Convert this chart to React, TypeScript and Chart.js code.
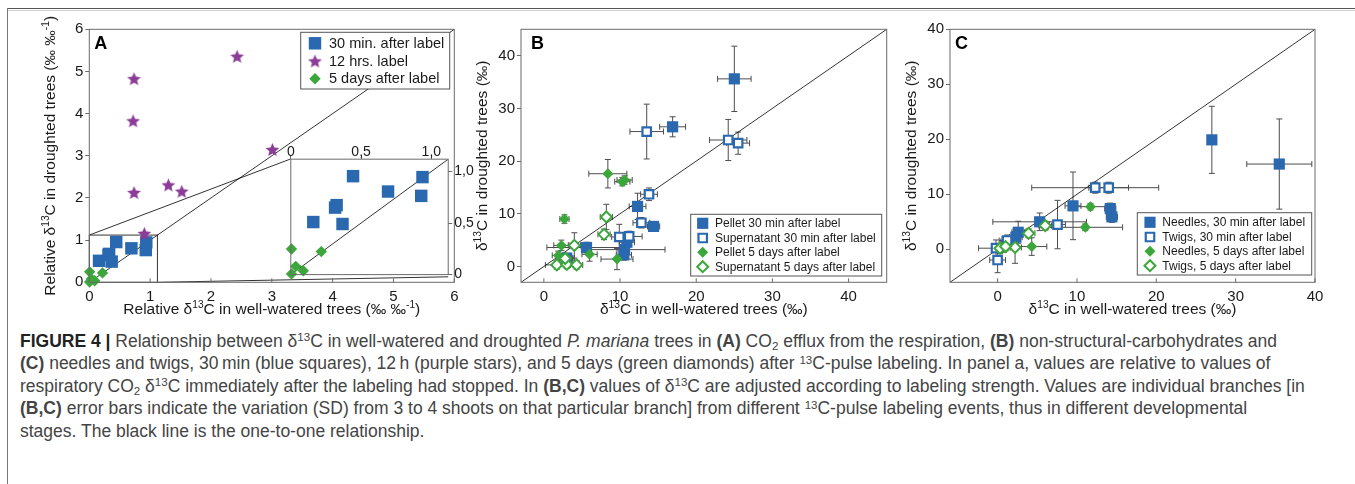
import React, { useEffect, useRef } from "react";
import { Chart, registerables } from "chart.js";

Chart.register(...registerables);

const FONT = '"Liberation Sans", Arial, Helvetica, sans-serif';
const CAPTION_FONT = '"Liberation Sans", Arial, sans-serif';
const BLUE = "#2a68af";
const PURPLE = "#8b3c97";
const GREEN = "#3ba73a";
const ERR = "#4d4d4d";
const FRAME = "#6b6b6b";
const INK = "#1a1a1a";
const TITLE_SIZE = 15.5;
const TICK_SIZE = 15;

/* ---------------- Panel A ---------------- */
const A_TICKS = [0, 1, 2, 3, 4, 5, 6];
const A_INSET_TICKS = [0, 0.5, 1.0];
const A_INSET_LABELS = ["0", "0,5", "1,0"];
const A_ZOOM_MAX = 1.12;
const A_LEGEND = ["30 min. after label", "12 hrs. label", "5 days after label"];
const A_MIN30_X = [0.16, 0.315, 0.326, 0.368, 0.443, 0.692, 0.928, 0.937];
const A_MIN30_Y = [0.51, 0.65, 0.674, 0.491, 0.955, 0.806, 0.764, 0.946];
const A_HRS12_X = [0.735, 0.72, 0.735, 2.43, 3.01, 1.3, 1.52, 0.905];
const A_HRS12_Y = [4.83, 3.83, 2.13, 5.36, 3.15, 2.31, 2.16, 1.16];
const A_DAY5_X = [0.005, 0.217, 0.035, 0.089, 0.005];
const A_DAY5_Y = [0.248, 0.223, 0.08, 0.038, 0.007];

/* ---------------- Panel B ---------------- */
const B_TICKS = [0, 10, 20, 30, 40];
const B_LEGEND = [
  "Pellet 30 min after label",
  "Supernatant 30 min after label",
  "Pellet 5 days after label",
  "Supernatant 5 days after label",
];
const B_P30_X = [25.0, 16.9, 12.3, 14.4, 5.6, 10.9, 10.6, 10.5, 3.0];
const B_P30_Y = [35.6, 26.5, 11.4, 7.6, 3.6, 4.6, 3.2, 2.2, 1.6];
const B_P30_XE = [2.2, 1.7, 1.1, 0.8, 5.2, 1.0, 5.3, 1.0, 1.0];
const B_P30_YE = [6.2, 1.9, 2.5, 0.8, 1.0, 1.2, 1.0, 1.0, 0.8];
const B_S30_X = [13.5, 24.2, 25.5, 13.8, 12.8, 9.9, 11.2];
const B_S30_Y = [25.6, 24.0, 23.4, 13.7, 8.3, 5.6, 5.7];
const B_S30_XE = [2.2, 2.45, 1.5, 1.1, 1.1, 1.0, 1.7];
const B_S30_YE = [5.2, 3.9, 2.1, 1.2, 1.0, 2.4, 1.0];
const B_P5_X = [8.4, 10.3, 10.6, 2.7, 2.3, 1.9, 3.0, 6.0, 9.6];
const B_P5_Y = [17.6, 16.1, 16.4, 9.0, 4.0, 2.1, 1.6, 2.3, 1.4];
const B_P5_XE = [2.5, 1.0, 1.0, 0.6, 1.0, 0.8, 0.8, 1.0, 2.1];
const B_P5_YE = [2.7, 0.8, 0.8, 0.8, 1.0, 0.8, 0.8, 1.3, 2.0];
const B_S5_X = [8.2, 7.9, 4.0, 1.7, 3.0, 4.3, 2.8];
const B_S5_Y = [9.4, 6.1, 4.0, 0.3, 0.4, 0.3, 1.5];
const B_S5_XE = [0.8, 0.8, 0.8, 1.5, 0.8, 0.8, 1.0];
const B_S5_YE = [2.4, 1.0, 2.4, 0.8, 0.8, 0.8, 1.0];

/* ---------------- Panel C ---------------- */
const C_TICKS_X = [0, 10, 20, 30, 40];
const C_TICKS_Y = [0, 10, 20, 30, 40];
const C_LEGEND = [
  "Needles, 30 min after label",
  "Twigs, 30 min after label",
  "Needles, 5 days after label",
  "Twigs, 5 days after label",
];
const C_N30_X = [27.0, 35.5, 9.5, 14.2, 14.4, 5.3, 2.6, 2.3, 1.2];
const C_N30_Y = [19.9, 15.5, 7.9, 7.4, 5.9, 5.0, 3.1, 2.2, 1.4];
const C_N30_XE = [0.3, 4.1, 1.0, 0.7, 0.7, 5.9, 0.8, 0.8, 0.8];
const C_N30_YE = [6.1, 8.2, 6.15, 1.0, 1.0, 1.6, 2.0, 1.5, 1.0];
const C_T30_X = [12.3, 14.0, 7.55, 0.0, -0.2, 1.2];
const C_T30_Y = [11.2, 11.2, 4.5, -1.95, 0.2, 1.6];
const C_T30_XE = [8.0, 2.5, 1.0, 1.0, 2.2, 1.0];
const C_T30_YE = [1.0, 1.0, 4.4, 2.3, 1.5, 1.0];
const C_N5_X = [11.7, 11.05, 4.3, 0.3, 0.8];
const C_N5_Y = [7.75, 4.0, 0.5, 0.0, 0.3];
const C_N5_XE = [2.4, 4.7, 1.9, 0.8, 0.8];
const C_N5_YE = [0.6, 0.6, 1.6, 0.8, 0.8];
const C_T5_X = [6.0, 3.9, 2.2, 0.3, 1.0];
const C_T5_Y = [4.3, 2.9, 0.35, 0.2, 0.5];
const C_T5_XE = [0.8, 0.8, 0.8, 0.8, 0.8];
const C_T5_YE = [0.8, 0.8, 2.9, 0.8, 0.8];

/* ---------------- Titles ---------------- */
type Seg = { t: string; sup?: boolean };
const A_X_TITLE: Seg[] = [{ t: "Relative \u03b4" }, { t: "13", sup: true }, { t: "C in well-watered trees (\u2030 \u2030" }, { t: "-1", sup: true }, { t: ")" }];
const A_Y_TITLE: Seg[] = [{ t: "Relative \u03b4" }, { t: "13", sup: true }, { t: "C in droughted trees (\u2030 \u2030" }, { t: "-1", sup: true }, { t: ")" }];
const BC_X_TITLE: Seg[] = [{ t: "\u03b4" }, { t: "13", sup: true }, { t: "C in well-watered trees (\u2030)" }];
const BC_Y_TITLE: Seg[] = [{ t: "\u03b4" }, { t: "13", sup: true }, { t: "C in droughted trees (\u2030)" }];

/* ---------------- Layout (page pixels) ---------------- */
const PANEL_A = { canvas: [10, 12, 455, 310], area: [89.3, 29.3, 454.3, 282.3], min: 0, max: 6 };
const PANEL_B = { canvas: [465, 12, 430, 310], area: [521, 29.3, 886.7, 282.3], min: -3, max: 45 };
const PANEL_C = { canvas: [895, 12, 440, 310], area: [950, 29.3, 1315, 282.3], min: -6, max: 40 };
const A_INSET_BOX = { x0: 3.3, x1: 5.9, y0: 0.13, y1: 2.92 };

interface Mk { style: any; r: number; fill: string; stroke: string; bw: number }
interface Pt { x: number; y: number; xe?: number; ye?: number }
interface Series { pts: Pt[]; mk: Mk }

const zip = (xs: number[], ys: number[], xe?: number[], ye?: number[]): Pt[] =>
  xs.map((x, i) => ({ x, y: ys[i], xe: xe ? xe[i] : 0, ye: ye ? ye[i] : 0 }));

function makeStar(color: string, R: number) {
  const s = Math.ceil(2 * R + 2);
  const c = document.createElement("canvas");
  c.width = s;
  c.height = s;
  const g = c.getContext("2d")!;
  g.translate(s / 2, s / 2 + R * 0.1);
  g.beginPath();
  for (let i = 0; i < 10; i++) {
    const r = i % 2 === 0 ? R : R * 0.45;
    const a = -Math.PI / 2 + (i * Math.PI) / 5;
    if (i === 0) g.moveTo(r * Math.cos(a), r * Math.sin(a));
    else g.lineTo(r * Math.cos(a), r * Math.sin(a));
  }
  g.closePath();
  g.fillStyle = color;
  g.fill();
  return c;
}

function drawMarker(ctx: CanvasRenderingContext2D, m: Mk, x: number, y: number) {
  if (typeof m.style !== "string") {
    ctx.drawImage(m.style, x - m.style.width / 2, y - m.style.height / 2);
    return;
  }
  ctx.beginPath();
  if (m.style === "rect") {
    const s = Math.SQRT1_2 * m.r;
    ctx.rect(x - s, y - s, 2 * s, 2 * s);
  } else {
    ctx.moveTo(x - m.r, y);
    ctx.lineTo(x, y - m.r);
    ctx.lineTo(x + m.r, y);
    ctx.lineTo(x, y + m.r);
    ctx.closePath();
  }
  ctx.fillStyle = m.fill;
  ctx.fill();
  if (m.bw > 0) {
    ctx.lineWidth = m.bw;
    ctx.strokeStyle = m.stroke;
    ctx.stroke();
  }
}

function drawRich(ctx: CanvasRenderingContext2D, segs: Seg[], x: number, y: number, size: number) {
  const fontFor = (s: Seg) => `${s.sup ? size * 0.66 : size}px ${FONT}`;
  let total = 0;
  for (const s of segs) {
    ctx.font = fontFor(s);
    total += ctx.measureText(s.t).width;
  }
  let cx = x - total / 2;
  ctx.textAlign = "left";
  ctx.textBaseline = "alphabetic";
  ctx.fillStyle = INK;
  for (const s of segs) {
    ctx.font = fontFor(s);
    ctx.fillText(s.t, cx, y + (s.sup ? -size * 0.4 : 0));
    cx += ctx.measureText(s.t).width;
  }
}

function makeChart(canvas: HTMLCanvasElement, cfg: any) {
  const [cl, ct, cw, ch] = cfg.rect;
  const [L, T, R, B] = cfg.area;
  canvas.width = cw;
  canvas.height = ch;
  Object.assign(canvas.style, {
    position: "absolute",
    left: cl + "px",
    top: ct + "px",
    width: cw + "px",
    height: ch + "px",
    display: "block",
  });
  const inset = !!cfg.inset;
  const YW = inset ? 26 : 40;
  const XH = inset ? 20 : 30;
  const padding = inset
    ? { left: L - cl, top: T - ct - XH, right: cl + cw - R - YW, bottom: ct + ch - B }
    : { left: L - cl - YW, top: T - ct, right: cl + cw - R, bottom: ct + ch - B - XH };
  const label = (v: number) => (cfg.fmt ? cfg.fmt(v) : String(v));
  const datasets: any[] = cfg.series.map((s: Series) => ({
    data: s.pts,
    pointStyle: s.mk.style,
    pointRadius: s.mk.r,
    pointHoverRadius: s.mk.r,
    pointBackgroundColor: s.mk.fill,
    pointBorderColor: s.mk.stroke,
    pointBorderWidth: s.mk.bw,
    showLine: false,
    clip: false,
  }));
  datasets.push({
    data: [
      { x: cfg.min, y: cfg.min },
      { x: cfg.max, y: cfg.max },
    ],
    showLine: true,
    borderColor: "#000",
    borderWidth: 0.8,
    pointRadius: 0,
    order: 100,
  });
  const tickFont = { family: FONT, size: cfg.tickSize };
  return new Chart(canvas, {
    type: "scatter",
    data: { datasets },
    options: {
      responsive: false,
      animation: false,
      devicePixelRatio: 1,
      events: [],
      layout: { padding },
      plugins: { legend: { display: false }, tooltip: { enabled: false } },
      scales: {
        x: {
          type: "linear",
          position: inset ? "top" : "bottom",
          min: cfg.min,
          max: cfg.max,
          afterBuildTicks: (s: any) => {
            s.ticks = cfg.xTicks.map((v: number) => ({ value: v }));
          },
          afterFit: (s: any) => {
            s.height = XH;
          },
          grid: { display: true, drawOnChartArea: false, drawTicks: inset, tickLength: 4, color: FRAME },
          border: { display: false },
          ticks: {
            autoSkip: false,
            maxRotation: 0,
            minRotation: 0,
            padding: inset ? -5 : 6,
            color: INK,
            font: tickFont,
            callback: (v: any) => label(Number(v)),
          },
        },
        y: {
          type: "linear",
          position: inset ? "right" : "left",
          min: cfg.min,
          max: cfg.max,
          afterBuildTicks: (s: any) => {
            s.ticks = cfg.yTicks.map((v: number) => ({ value: v }));
          },
          afterFit: (s: any) => {
            s.width = YW;
          },
          grid: { display: true, drawOnChartArea: false, drawTicks: true, tickLength: 4, color: FRAME },
          border: { display: false },
          ticks: {
            autoSkip: false,
            padding: 2,
            color: INK,
            font: tickFont,
            callback: (v: any) => label(Number(v)),
          },
        },
      },
    } as any,
    plugins: cfg.plugins,
  });
}

function mainDecor(d: any) {
  return {
    id: "mainDecor",
    beforeDatasetsDraw(chart: any) {
      const ctx: CanvasRenderingContext2D = chart.ctx;
      const xs = chart.scales.x;
      const ys = chart.scales.y;
      const seg = (x1: number, y1: number, x2: number, y2: number) => {
        ctx.beginPath();
        ctx.moveTo(x1, y1);
        ctx.lineTo(x2, y2);
        ctx.stroke();
      };
      ctx.save();
      ctx.strokeStyle = ERR;
      ctx.lineWidth = 1;
      for (const ds of chart.data.datasets) {
        for (const p of ds.data) {
          const px = xs.getPixelForValue(p.x);
          const py = ys.getPixelForValue(p.y);
          if (p.xe) {
            const a = xs.getPixelForValue(p.x - p.xe);
            const b = xs.getPixelForValue(p.x + p.xe);
            seg(a, py, b, py);
            seg(a, py - 3, a, py + 3);
            seg(b, py - 3, b, py + 3);
          }
          if (p.ye) {
            const a = ys.getPixelForValue(p.y - p.ye);
            const b = ys.getPixelForValue(p.y + p.ye);
            seg(px, a, px, b);
            seg(px - 3, a, px + 3, a);
            seg(px - 3, b, px + 3, b);
          }
        }
      }
      if (d.zoom) {
        const z = d.zoom;
        ctx.strokeStyle = "#333";
        ctx.lineWidth = 1;
        const x0 = xs.getPixelForValue(0);
        const x1 = xs.getPixelForValue(z.max);
        const y0 = ys.getPixelForValue(0);
        const y1 = ys.getPixelForValue(z.max);
        ctx.strokeRect(x0, y1, x1 - x0, y0 - y1);
        const bx0 = xs.getPixelForValue(z.box.x0);
        const bx1 = xs.getPixelForValue(z.box.x1);
        const by0 = ys.getPixelForValue(z.box.y0);
        const by1 = ys.getPixelForValue(z.box.y1);
        seg(x0, y1, bx0, by1);
        seg(x1, y0, bx1, by0);
      }
      ctx.restore();
    },
    afterDatasetsDraw(chart: any) {
      const ctx: CanvasRenderingContext2D = chart.ctx;
      const a = chart.chartArea;
      const xs = chart.scales.x;
      const ox = d.ox;
      const oy = d.oy;
      ctx.save();
      ctx.strokeStyle = FRAME;
      ctx.lineWidth = 1;
      ctx.strokeRect(a.left, a.top, a.right - a.left, a.bottom - a.top);
      for (const t of xs.ticks) {
        const x = xs.getPixelForValue(t.value);
        ctx.beginPath();
        ctx.moveTo(x, a.bottom);
        ctx.lineTo(x, a.bottom - 4);
        ctx.stroke();
      }
      const Lg = d.legend;
      ctx.fillStyle = "#fff";
      ctx.fillRect(Lg.box[0] - ox, Lg.box[1] - oy, Lg.box[2] - Lg.box[0], Lg.box[3] - Lg.box[1]);
      ctx.strokeStyle = "#555";
      ctx.lineWidth = 1;
      ctx.strokeRect(Lg.box[0] - ox, Lg.box[1] - oy, Lg.box[2] - Lg.box[0], Lg.box[3] - Lg.box[1]);
      Lg.items.forEach((it: any, i: number) => {
        drawMarker(ctx, it.mk, Lg.mx - ox, Lg.rows[i] - oy);
        ctx.fillStyle = INK;
        ctx.font = `${Lg.size}px ${FONT}`;
        ctx.textBaseline = "middle";
        ctx.textAlign = "left";
        ctx.fillText(it.label, Lg.tx - ox, Lg.rows[i] - oy + 0.5);
      });
      ctx.fillStyle = "#000";
      ctx.font = `bold 18px ${FONT}`;
      ctx.textBaseline = "alphabetic";
      ctx.textAlign = "left";
      ctx.fillText(d.letter, d.letterPos[0] - ox, d.letterPos[1] - oy);
      drawRich(ctx, d.xTitle, (a.left + a.right) / 2, a.bottom + 31.5, TITLE_SIZE);
      ctx.save();
      ctx.translate(a.left - 34, (a.top + a.bottom) / 2);
      ctx.rotate(-Math.PI / 2);
      drawRich(ctx, d.yTitle, 0, 0, TITLE_SIZE);
      ctx.restore();
      ctx.restore();
    },
  };
}

const insetDecor = {
  id: "insetDecor",
  beforeDraw(chart: any) {
    const ctx: CanvasRenderingContext2D = chart.ctx;
    const a = chart.chartArea;
    ctx.save();
    ctx.fillStyle = "#fff";
    ctx.fillRect(a.left, a.top, a.right - a.left, a.bottom - a.top);
    ctx.restore();
  },
  afterDatasetsDraw(chart: any) {
    const ctx: CanvasRenderingContext2D = chart.ctx;
    const a = chart.chartArea;
    ctx.save();
    ctx.strokeStyle = FRAME;
    ctx.lineWidth = 1;
    ctx.strokeRect(a.left, a.top, a.right - a.left, a.bottom - a.top);
    ctx.restore();
  },
};

const supStyle: React.CSSProperties = { fontSize: "0.66em", position: "relative", top: "-0.5em", verticalAlign: "baseline", lineHeight: 0 };
const subStyle: React.CSSProperties = { fontSize: "0.66em", position: "relative", top: "0.25em", verticalAlign: "baseline", lineHeight: 0 };

export default function App() {
  const aRef = useRef<HTMLCanvasElement>(null);
  const inRef = useRef<HTMLCanvasElement>(null);
  const bRef = useRef<HTMLCanvasElement>(null);
  const cRef = useRef<HTMLCanvasElement>(null);

  useEffect(() => {
    const star = makeStar(PURPLE, 7.2);
    const SQ_A: Mk = { style: "rect", r: 8.8, fill: BLUE, stroke: BLUE, bw: 0 };
    const STAR: Mk = { style: star, r: 7, fill: PURPLE, stroke: PURPLE, bw: 0 };
    const DIA_A: Mk = { style: "rectRot", r: 5.7, fill: GREEN, stroke: GREEN, bw: 0 };
    const SQ: Mk = { style: "rect", r: 7.9, fill: BLUE, stroke: BLUE, bw: 0 };
    const OSQ: Mk = { style: "rect", r: 6.0, fill: "#fff", stroke: BLUE, bw: 2.2 };
    const DIA: Mk = { style: "rectRot", r: 5.5, fill: GREEN, stroke: GREEN, bw: 0 };
    const ODIA: Mk = { style: "rectRot", r: 5.5, fill: "#fff", stroke: GREEN, bw: 2 };

    const aMin30 = zip(A_MIN30_X, A_MIN30_Y);
    const aHrs12 = zip(A_HRS12_X, A_HRS12_Y);
    const aDay5 = zip(A_DAY5_X, A_DAY5_Y);

    const charts: Chart[] = [];
    const [acl, act] = PANEL_A.canvas;
    const chartA = makeChart(aRef.current!, {
      rect: PANEL_A.canvas,
      area: PANEL_A.area,
      min: PANEL_A.min,
      max: PANEL_A.max,
      xTicks: A_TICKS,
      yTicks: A_TICKS,
      tickSize: TICK_SIZE,
      series: [
        { pts: aHrs12, mk: STAR },
        { pts: aMin30, mk: SQ_A },
        { pts: aDay5, mk: DIA_A },
      ],
      plugins: [
        mainDecor({
          ox: acl,
          oy: act,
          letter: "A",
          letterPos: [94.3, 49],
          xTitle: A_X_TITLE,
          yTitle: A_Y_TITLE,
          zoom: { max: A_ZOOM_MAX, box: A_INSET_BOX },
          legend: {
            box: [300.7, 32.3, 449.7, 89],
            rows: [43.3, 61, 78.7],
            mx: 315,
            tx: 329,
            size: 14.5,
            items: [
              { label: A_LEGEND[0], mk: SQ_A },
              { label: A_LEGEND[1], mk: STAR },
              { label: A_LEGEND[2], mk: DIA_A },
            ],
          },
        }),
      ],
    });
    charts.push(chartA);

    const sx: any = chartA.scales.x;
    const sy: any = chartA.scales.y;
    const iL = acl + sx.getPixelForValue(A_INSET_BOX.x0);
    const iR = acl + sx.getPixelForValue(A_INSET_BOX.x1);
    const iT = act + sy.getPixelForValue(A_INSET_BOX.y1);
    const iB = act + sy.getPixelForValue(A_INSET_BOX.y0);
    const rl = Math.floor(iL - 8);
    const rt = Math.floor(iT - 22);
    const rr = Math.ceil(iR + 28);
    const rb = Math.ceil(iB + 8);
    charts.push(
      makeChart(inRef.current!, {
        inset: true,
        rect: [rl, rt, rr - rl, rb - rt],
        area: [iL, iT, iR, iB],
        min: 0,
        max: A_ZOOM_MAX,
        xTicks: A_INSET_TICKS,
        yTicks: A_INSET_TICKS,
        tickSize: 14,
        fmt: (v: number) => A_INSET_LABELS[A_INSET_TICKS.indexOf(v)] ?? "",
        series: [
          { pts: aMin30, mk: SQ_A },
          { pts: aDay5, mk: DIA_A },
        ],
        plugins: [insetDecor],
      })
    );

    const [bcl, bct] = PANEL_B.canvas;
    charts.push(
      makeChart(bRef.current!, {
        rect: PANEL_B.canvas,
        area: PANEL_B.area,
        min: PANEL_B.min,
        max: PANEL_B.max,
        xTicks: B_TICKS,
        yTicks: B_TICKS,
        tickSize: TICK_SIZE,
        series: [
          { pts: zip(B_S5_X, B_S5_Y, B_S5_XE, B_S5_YE), mk: ODIA },
          { pts: zip(B_P5_X, B_P5_Y, B_P5_XE, B_P5_YE), mk: DIA },
          { pts: zip(B_S30_X, B_S30_Y, B_S30_XE, B_S30_YE), mk: OSQ },
          { pts: zip(B_P30_X, B_P30_Y, B_P30_XE, B_P30_YE), mk: SQ },
        ],
        plugins: [
          mainDecor({
            ox: bcl,
            oy: bct,
            letter: "B",
            letterPos: [531, 48.5],
            xTitle: BC_X_TITLE,
            yTitle: BC_Y_TITLE,
            legend: {
              box: [690.7, 214.3, 881.7, 276],
              rows: [223.3, 238, 252.3, 266.7],
              mx: 702.7,
              tx: 715,
              size: 12,
              items: [
                { label: B_LEGEND[0], mk: SQ },
                { label: B_LEGEND[1], mk: OSQ },
                { label: B_LEGEND[2], mk: DIA },
                { label: B_LEGEND[3], mk: ODIA },
              ],
            },
          }),
        ],
      })
    );

    const [ccl, cct] = PANEL_C.canvas;
    charts.push(
      makeChart(cRef.current!, {
        rect: PANEL_C.canvas,
        area: PANEL_C.area,
        min: PANEL_C.min,
        max: PANEL_C.max,
        xTicks: C_TICKS_X,
        yTicks: C_TICKS_Y,
        tickSize: TICK_SIZE,
        series: [
          { pts: zip(C_T5_X, C_T5_Y, C_T5_XE, C_T5_YE), mk: ODIA },
          { pts: zip(C_N5_X, C_N5_Y, C_N5_XE, C_N5_YE), mk: DIA },
          { pts: zip(C_T30_X, C_T30_Y, C_T30_XE, C_T30_YE), mk: OSQ },
          { pts: zip(C_N30_X, C_N30_Y, C_N30_XE, C_N30_YE), mk: SQ },
        ],
        plugins: [
          mainDecor({
            ox: ccl,
            oy: cct,
            letter: "C",
            letterPos: [955, 48.5],
            xTitle: BC_X_TITLE,
            yTitle: BC_Y_TITLE,
            legend: {
              box: [1137.3, 212.7, 1311.7, 275],
              rows: [222.3, 237, 251.3, 265.7],
              mx: 1150,
              tx: 1162.3,
              size: 12,
              items: [
                { label: C_LEGEND[0], mk: SQ },
                { label: C_LEGEND[1], mk: OSQ },
                { label: C_LEGEND[2], mk: DIA },
                { label: C_LEGEND[3], mk: ODIA },
              ],
            },
          }),
        ],
      })
    );

    return () => {
      charts.forEach((c) => c.destroy());
    };
  }, []);

  return (
    <div style={{ position: "absolute", left: 0, top: 0, width: 1355, height: 484, background: "#fff", overflow: "hidden" }}>
      <div style={{ position: "absolute", left: 7, top: 8, width: 1348, height: 1, background: "#555" }} />
      <div style={{ position: "absolute", left: 8, top: 10, width: 1347, height: 1, background: "#d0d0d0" }} />
      <div style={{ position: "absolute", left: 7, top: 8, width: 1, height: 476, background: "#777" }} />
      <canvas ref={aRef} />
      <canvas ref={bRef} />
      <canvas ref={cRef} />
      <canvas ref={inRef} />
      <div
        style={{
          position: "absolute",
          left: 20,
          top: 329.7,
          fontFamily: CAPTION_FONT,
          fontSize: 17.5,
          lineHeight: "22.6px",
          color: "#444",
          whiteSpace: "nowrap",
        }}
      >
        <div>
          <b style={{ color: "#222" }}>FIGURE 4 |</b> Relationship between {"\u03b4"}
          <span style={supStyle}>13</span>C in well-watered and droughted <i>P. mariana</i> trees in <b>(A)</b> CO
          <span style={subStyle}>2</span> efflux from the respiration, <b>(B)</b> non-structural-carbohydrates and
        </div>
        <div>
          <b>(C)</b> needles and twigs, 30{"\u2009"}min (blue squares), 12{"\u2009"}h (purple stars), and 5 days (green diamonds) after{" "}
          <span style={supStyle}>13</span>C-pulse labeling. In panel a, values are relative to values of
        </div>
        <div>
          respiratory CO<span style={subStyle}>2</span> {"\u03b4"}
          <span style={supStyle}>13</span>C immediately after the labeling had stopped. In <b>(B,C)</b> values of {"\u03b4"}
          <span style={supStyle}>13</span>C are adjusted according to labeling strength. Values are individual branches [in
        </div>
        <div>
          <b>(B,C)</b> error bars indicate the variation (SD) from 3 to 4 shoots on that particular branch] from different{" "}
          <span style={supStyle}>13</span>C-pulse labeling events, thus in different developmental
        </div>
        <div>stages. The black line is the one-to-one relationship.</div>
      </div>
    </div>
  );
}
